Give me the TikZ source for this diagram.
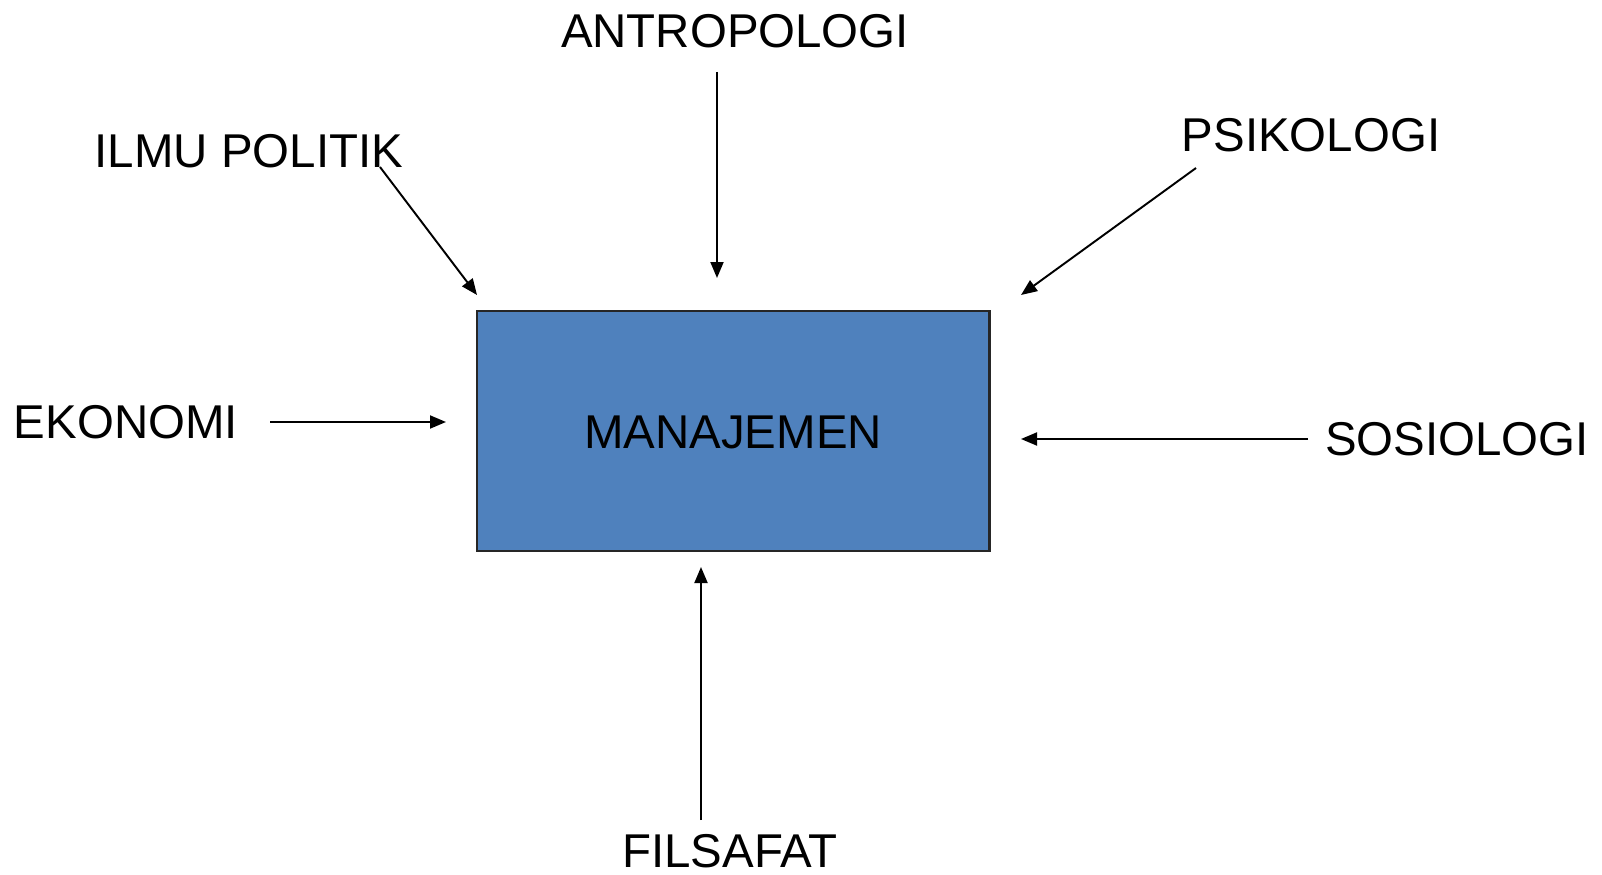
\documentclass[tikz,border=0pt]{standalone}
\usepackage{fontspec}
\setmainfont{Liberation Sans}
\usetikzlibrary{arrows.meta}
\definecolor{boxblue}{RGB}{79,129,189}
\begin{document}
\begin{tikzpicture}[x=0.02cm, y=-0.02cm,
		label/.style={inner sep=0pt, font=\fontsize{27}{32}\selectfont},
		feed/.style={line width=1.1pt, -{Triangle[length=0.32cm, width=0.26cm]}}]
		\useasboundingbox (0,0) rectangle (1602,875);
		
		% central box
		\node[draw=black!85, line width=1.7pt, fill=boxblue, minimum width=512*0.02cm, minimum height=240*0.02cm, inner sep=0pt] (M) at (733,431) {};
		\node[label] (man) at (733,432) {MANAJEMEN};
		
		% surrounding fields
		\node[label] (antro) at (735,31) {ANTROPOLOGI};
		\node[label] (ilmu) at (249,151) {ILMU POLITIK};
		\node[label] (psi) at (1311,135) {PSIKOLOGI};
		\node[label] (eko) at (126,422) {EKONOMI};
		\node[label] (sos) at (1457,439) {SOSIOLOGI};
		\node[label] (fil) at (730,851) {FILSAFAT};
		
		% arrow ends
		\coordinate (a1) at (717,72);   \coordinate (a2) at (717,278);
		\coordinate (i1) at (380,167);  \coordinate (i2) at (477,295);
		\coordinate (p1) at (1196,168); \coordinate (p2) at (1021,295);
		\coordinate (e1) at (270,422);  \coordinate (e2) at (446,422);
		\coordinate (s1) at (1308,439); \coordinate (s2) at (1021,439);
		\coordinate (f1) at (701,820);  \coordinate (f2) at (701,567);
		
		\draw[feed] (a1) -- (a2);
		\draw[feed] (i1) -- (i2);
		\draw[feed] (p1) -- (p2);
		\draw[feed] (e1) -- (e2);
		\draw[feed] (s1) -- (s2);
		\draw[feed] (f1) -- (f2);
\end{tikzpicture}
\end{document}
